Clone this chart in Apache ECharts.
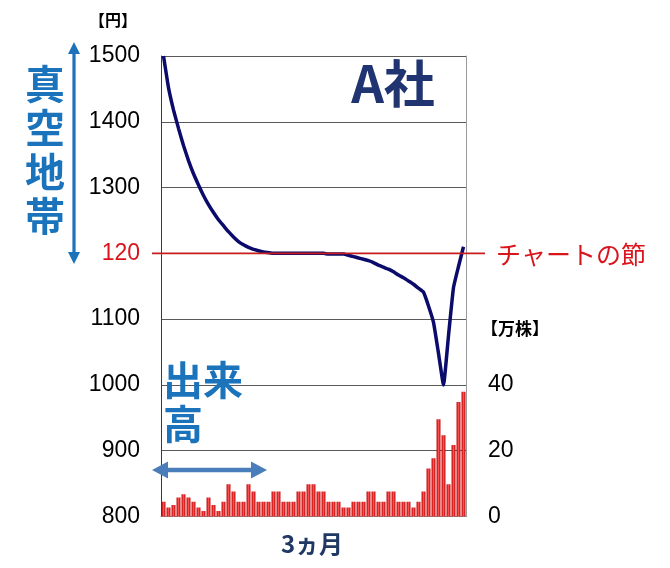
<!DOCTYPE html>
<html><head><meta charset="utf-8">
<script src="https://cdn.jsdelivr.net/npm/echarts@6/dist/echarts.min.js"></script>
<style>html,body{margin:0;padding:0;background:#fff}#c{width:670px;height:568px}</style>
</head><body><div id="c"></div>
<script>
// ---- data ----
const days = Array.from({length: 61}, (_, i) => 'Day ' + (i + 1));
const price = [1500,1452,1418,1390,1364,1341,1321,1304,1288,1274,
  1262,1251,1242,1233,1225,1218,1213,1209,1206,1204,
  1202,1201,1200,1200,1200,1200,1200,1200,1200,1200,
  1200,1200,1200,1199,1199,1199,1199,1197,1195,1193,
  1191,1189,1186,1182,1179,1176,1172,1167,1163,1158,
  1153,1147,1141,1120,1095,1048,1000,1075,1148,1180,1210];
const volume = [4.5,2.7,3.5,5.8,6.8,5.8,4.5,2.7,1.7,5.8,
  3.5,1.7,4.5,9.8,7.6,4.5,4.5,9.8,7.6,4.5,
  4.5,4.5,7.6,7.6,4.5,4.5,4.5,7.6,7.6,9.8,
  9.8,7.6,7.6,4.5,4.5,4.5,2.7,2.7,4.5,4.5,
  4.5,7.6,7.6,4.5,4.5,7.6,7.6,4.5,4.5,4.5,
  2.7,4.5,7.6,14.6,17.7,29.6,24.7,9.8,21.7,34.8,37.9];
const priceTicks = [800,900,1000,1100,1200,1300,1400,1500];
const priceTickLabels = ['800','900','1000','1100','120','1300','1400','1500'];
const volumeTickLabels = {0:'0', 20:'20', 40:'40'};
const nodePrice = 1200;

const NUM = '"Liberation Sans", Arial, sans-serif';
const JP = '"Noto Sans CJK JP", sans-serif';
const BLUE = '#1b74bb';

const chart = echarts.init(document.getElementById('c'));
const option = {
  animation: false,
  backgroundColor: '#fff',
  grid: {left: 161, right: 204, top: 56, bottom: 51.5},
  xAxis: {
    type: 'category', data: days, boundaryGap: true,
    axisLine: {show: true, lineStyle: {color: '#8c8c8c', width: 1}},
    axisTick: {show: false}, axisLabel: {show: false}, splitLine: {show: false}
  },
  yAxis: [{
    type: 'value', min: 800, max: 1500, interval: 100, position: 'left',
    axisLine: {show: true, lineStyle: {color: '#3a3a3a', width: 1}},
    axisTick: {show: false},
    splitLine: {show: true, lineStyle: {color: '#5a5a5a', width: 1}},
    axisLabel: {
      margin: 21, fontFamily: NUM, fontSize: 23, color: '#000',
      formatter: v => {
        const i = priceTicks.indexOf(v);
        const t = i >= 0 ? priceTickLabels[i] : '';
        return v === nodePrice ? '{r|' + t + '}' : t;
      },
      rich: {r: {color: '#d9141b', fontFamily: NUM, fontSize: 23}}
    }
  }, {
    type: 'value', min: 0, max: 140, interval: 20, position: 'right',
    axisLine: {show: true, lineStyle: {color: '#9a9a9a', width: 1}},
    axisTick: {show: false}, splitLine: {show: false},
    axisLabel: {
      margin: 22, fontFamily: NUM, fontSize: 23, color: '#000',
      formatter: v => (volumeTickLabels[v] !== undefined ? volumeTickLabels[v] : '')
    }
  }],
  series: [{
    name: '出来高', type: 'bar', yAxisIndex: 1, data: volume,
    barCategoryGap: '22%', z: 2,
    itemStyle: {
      color: new echarts.graphic.LinearGradient(0, 0, 1, 0, [
        {offset: 0, color: '#b50000'},
        {offset: 0.5, color: '#ff4b4b'},
        {offset: 1, color: '#b50000'}
      ])
    }
  }, {
    name: '株価', type: 'line', yAxisIndex: 0, data: price,
    symbol: 'none', smooth: 0.12, z: 3,
    lineStyle: {color: '#0b0b6b', width: 3.5}
  }]
};
chart.setOption(option);

function arrowV(x, y1, y2, color) {
  const hw = 6, hh = 12, sw = 1.6;
  return {type: 'polygon', z: 100, shape: {points: [
    [x, y1], [x + hw, y1 + hh], [x + sw, y1 + hh], [x + sw, y2 - hh], [x + hw, y2 - hh],
    [x, y2], [x - hw, y2 - hh], [x - sw, y2 - hh], [x - sw, y1 + hh], [x - hw, y1 + hh]
  ]}, style: {fill: color}};
}
function arrowH(x1, x2, y, color) {
  const hw = 8.5, hl = 16, sw = 2.2;
  return {type: 'polygon', z: 100, shape: {points: [
    [x1, y], [x1 + hl, y - hw], [x1 + hl, y - sw], [x2 - hl, y - sw], [x2 - hl, y - hw],
    [x2, y], [x2 - hl, y + hw], [x2 - hl, y + sw], [x1 + hl, y + sw], [x1 + hl, y + hw]
  ]}, style: {fill: color}};
}

const yNode = chart.convertToPixel({yAxisIndex: 0}, nodePrice);
chart.setOption({graphic: [
  {type: 'line', z: 50, shape: {x1: 152, y1: yNode, x2: 485, y2: yNode},
   style: {stroke: '#c81e1e', lineWidth: 1.6}},
  {type: 'text', z: 100, x: 496, y: yNode + 1, style: {text: 'チャートの節', font: '25px ' + JP,
   fill: '#d9141b', align: 'left', verticalAlign: 'middle'}},
  {type: 'text', z: 100, x: 113, y: 20, style: {text: '【円】', font: 'bold 16px ' + JP,
   fill: '#000', align: 'center', verticalAlign: 'middle'}},
  {type: 'text', z: 100, x: 515, y: 329, style: {text: '【万株】', font: 'bold 17px ' + JP,
   fill: '#000', align: 'center', verticalAlign: 'middle'}},
  {type: 'text', z: 100, x: 393, y: 84, style: {text: 'A社', font: 'bold 51px ' + JP,
   fill: '#1f3470', align: 'center', verticalAlign: 'middle'}},
  {type: 'text', z: 100, x: 45, y: 150, style: {text: '真\n空\n地\n帯', font: 'bold 40px ' + JP,
   lineHeight: 44, fill: BLUE, align: 'center', verticalAlign: 'middle'}},
  {type: 'text', z: 100, x: 163, y: 402, style: {text: '出来\n高', font: 'bold 40px ' + JP,
   lineHeight: 44, fill: BLUE, align: 'left', verticalAlign: 'middle'}},
  {type: 'text', z: 100, x: 312, y: 544, style: {text: '3ヵ月', font: 'bold 24px ' + JP,
   fill: '#1f3864', align: 'center', verticalAlign: 'middle'}},
  arrowV(74, 42, 264, BLUE),
  arrowH(152, 267, 470, '#4a7ebb')
]});
</script></body></html>
